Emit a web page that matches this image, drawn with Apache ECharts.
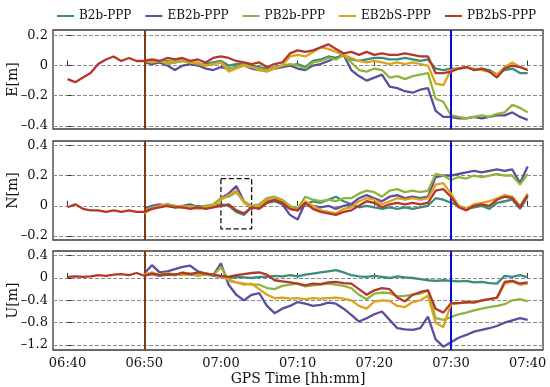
<!DOCTYPE html>
<html><head><meta charset="utf-8">
<script src="https://cdn.jsdelivr.net/npm/echarts@6/dist/echarts.min.js"></script>
<style>html,body{margin:0;padding:0;background:#fff}#c{width:550px;height:387px}</style>
</head><body><div id="c"></div>
<script>
// minutes after 06:40
const minutes = [0,1,2,3,4,5,6,7,8,9,10,11,12,13,14,15,16,17,18,19,20,21,22,23,24,25,26,27,28,29,30,31,32,33,34,35,36,37,38,39,40,41,42,43,44,45,46,47,48,49,50,51,52,53,54,55,56,57,58,59,60];
const seriesNames = ['B2b-PPP','EB2b-PPP','PB2b-PPP','EB2bS-PPP','PB2bS-PPP'];
const xTickValues = [0,10,20,30,40,50,60];
const xTickLabels = ['06:40','06:50','07:00','07:10','07:20','07:30','07:40'];
const eTicks = [-0.4,-0.2,0,0.2];
const nTicks = [-0.2,0,0.2,0.4];
const uTicks = [-1.2,-0.8,-0.4,0,0.4];
const vLineBrown = 10, vLineBlue = 50;
const boxN = {x0:20, x1:24, yTop:0.179, yBot:-0.152};
const N = null;
const pre = [N,N,N,N,N,N,N,N,N,N];

// ---- E component ----
const E_B2b   = pre.concat([0.02,0.03,0.02,0.03,0.02,0.03,0.02,0.01,0.01,0.02,0.03,0.0,0.01,0.01,0.0,-0.01,-0.02,-0.01,0.0,0.0,0.01,-0.01,0.03,0.04,0.06,0.05,0.07,0.04,0.03,0.04,0.05,0.05,0.04,0.04,0.05,0.04,0.03,0.04,-0.02,-0.03,-0.02,-0.02,-0.01,-0.03,-0.02,-0.03,-0.06,-0.03,-0.02,-0.05,-0.05]);
const E_EB2b  = pre.concat([0.02,0.01,0.02,0.0,-0.03,0.0,0.01,0.0,-0.02,-0.03,-0.01,-0.02,-0.01,0.0,-0.02,-0.03,-0.03,-0.02,-0.01,0.0,-0.02,-0.03,0.0,0.01,0.03,0.05,0.07,-0.03,-0.07,-0.1,-0.08,-0.06,-0.14,-0.15,-0.17,-0.18,-0.16,-0.15,-0.30,-0.34,-0.34,-0.35,-0.35,-0.34,-0.35,-0.34,-0.33,-0.33,-0.31,-0.34,-0.36]);
const E_PB2b  = pre.concat([0.03,0.02,0.03,0.01,0.02,0.03,0.02,0.01,0.0,0.01,0.02,-0.02,-0.01,0.01,-0.01,-0.02,-0.03,-0.01,0.0,0.01,0.0,-0.02,0.02,0.03,0.05,0.04,0.07,0.02,-0.03,-0.04,-0.02,-0.03,-0.08,-0.07,-0.09,-0.07,-0.06,-0.05,-0.22,-0.24,-0.33,-0.34,-0.35,-0.34,-0.33,-0.34,-0.32,-0.31,-0.26,-0.28,-0.31]);
const E_EB2bS = pre.concat([0.03,0.02,0.03,0.02,0.03,0.04,0.02,0.02,0.0,0.01,0.02,-0.04,-0.02,0.0,-0.01,-0.03,-0.04,-0.02,0.0,0.06,0.07,0.06,0.09,0.12,0.11,0.09,0.07,0.05,0.03,0.02,0.03,0.02,0.01,0.02,0.01,0.02,0.01,0.0,-0.12,-0.13,-0.03,-0.02,-0.01,-0.02,-0.03,-0.04,-0.06,-0.01,0.02,-0.01,-0.03]);
const E_PB2bS = [-0.09,-0.11,-0.08,-0.05,0.01,0.04,0.06,0.03,0.05,0.03,0.03,0.04,0.03,0.05,0.04,0.05,0.03,0.04,0.02,0.05,0.06,0.05,0.03,0.02,0.01,0.02,-0.01,0.01,0.02,0.08,0.10,0.09,0.10,0.12,0.14,0.11,0.08,0.09,0.07,0.09,0.07,0.08,0.07,0.07,0.08,0.07,0.06,0.06,-0.05,-0.05,-0.04,-0.02,-0.01,-0.03,-0.02,-0.04,-0.08,-0.02,0.0,-0.01,-0.03];

// ---- N component ----
const N_B2b   = pre.concat([-0.03,-0.01,0.0,0.01,0.0,-0.01,-0.01,0.0,-0.01,0.0,0.01,0.0,-0.04,-0.06,-0.01,-0.01,0.02,0.03,0.01,-0.02,-0.03,0.01,0.03,0.02,0.04,0.06,0.03,0.01,-0.01,0.0,-0.01,-0.02,-0.01,-0.02,-0.01,-0.02,-0.01,0.0,0.05,0.04,0.02,0.0,-0.02,-0.01,0.0,-0.02,0.02,0.03,0.04,-0.02,0.06]);
const N_EB2b  = pre.concat([-0.02,0.0,0.01,0.0,-0.01,0.0,0.01,-0.01,0.0,0.0,0.05,0.08,0.13,0.03,-0.02,0.0,0.03,0.04,0.01,-0.06,-0.09,0.02,0.0,-0.01,0.0,-0.02,0.0,0.01,0.05,0.07,0.05,0.03,0.06,0.07,0.05,0.06,0.05,0.06,0.19,0.2,0.2,0.21,0.22,0.23,0.22,0.23,0.24,0.23,0.24,0.15,0.26]);
const N_PB2b  = pre.concat([-0.03,-0.01,0.0,0.01,0.0,-0.01,0.0,-0.01,0.0,0.01,0.05,0.06,0.09,0.03,0.0,0.01,0.05,0.06,0.04,0.0,-0.02,0.06,0.04,0.03,0.04,0.03,0.05,0.05,0.08,0.1,0.09,0.06,0.1,0.11,0.09,0.1,0.09,0.1,0.21,0.2,0.17,0.19,0.18,0.2,0.19,0.2,0.21,0.2,0.2,0.14,0.21]);
const N_EB2bS = pre.concat([-0.05,-0.02,0.0,0.01,-0.01,0.0,-0.01,-0.02,-0.01,0.0,0.04,0.07,0.1,0.02,-0.01,0.0,0.04,0.05,0.03,-0.01,-0.03,0.03,0.0,-0.03,-0.04,-0.05,-0.02,-0.01,0.03,0.05,0.04,0.01,0.03,0.05,0.04,0.05,0.04,0.05,0.14,0.15,0.08,0.0,-0.02,0.01,0.02,0.03,0.05,0.07,0.06,0.0,0.08]);
const N_PB2bS = [-0.01,0.01,-0.02,-0.03,-0.03,-0.04,-0.03,-0.04,-0.03,-0.04,-0.04,-0.02,-0.01,0.0,-0.01,-0.01,-0.02,-0.01,-0.02,-0.01,0.0,0.01,-0.03,-0.05,-0.01,-0.02,0.02,0.04,0.02,-0.02,-0.03,0.02,-0.02,-0.04,-0.05,-0.06,-0.04,-0.03,0.0,0.03,0.02,-0.01,0.01,0.02,0.01,0.02,0.01,0.02,0.10,0.11,0.06,-0.01,-0.03,0.0,0.01,0.0,0.04,0.06,0.05,-0.01,0.07];

// ---- U component ----
const U_B2b   = pre.concat([0.05,0.07,0.04,0.06,0.05,0.08,0.06,0.05,0.07,0.04,0.02,0.0,0.02,0.01,0.0,0.02,0.02,0.04,0.03,0.05,0.03,0.06,0.08,0.1,0.12,0.14,0.1,0.05,0.03,0.02,0.04,0.02,0.0,0.03,0.01,0.0,-0.02,-0.04,-0.05,-0.04,-0.05,-0.06,-0.05,-0.08,-0.07,-0.09,-0.1,0.04,0.02,0.05,0.01]);
const U_EB2b  = pre.concat([0.08,0.23,0.1,0.12,0.16,0.2,0.22,0.12,0.08,0.05,0.26,-0.12,-0.3,-0.4,-0.3,-0.27,-0.5,-0.63,-0.55,-0.5,-0.43,-0.46,-0.5,-0.48,-0.44,-0.46,-0.55,-0.66,-0.78,-0.72,-0.65,-0.6,-0.75,-0.9,-0.92,-0.93,-0.9,-0.69,-1.1,-1.23,-1.15,-1.07,-1.02,-0.96,-0.93,-0.9,-0.86,-0.8,-0.76,-0.72,-0.75]);
const U_PB2b  = pre.concat([0.05,0.08,0.06,0.09,0.05,0.1,0.08,0.04,0.07,0.05,0.2,-0.05,-0.08,-0.1,-0.12,-0.12,-0.18,-0.2,-0.14,-0.12,-0.1,-0.15,-0.13,-0.12,-0.1,-0.12,-0.14,-0.18,-0.3,-0.38,-0.28,-0.26,-0.27,-0.33,-0.32,-0.3,-0.28,-0.22,-0.72,-0.75,-0.7,-0.65,-0.62,-0.58,-0.55,-0.52,-0.5,-0.47,-0.4,-0.38,-0.42]);
const U_EB2bS = pre.concat([0.06,0.1,0.05,0.08,0.07,0.05,0.08,0.06,0.09,0.05,0.03,-0.02,-0.08,-0.12,-0.1,-0.2,-0.3,-0.36,-0.35,-0.37,-0.36,-0.38,-0.36,-0.37,-0.36,-0.35,-0.37,-0.4,-0.5,-0.55,-0.42,-0.4,-0.41,-0.5,-0.52,-0.43,-0.4,-0.32,-0.8,-0.88,-0.47,-0.45,-0.44,-0.42,-0.41,-0.38,-0.36,-0.1,-0.06,-0.12,-0.1]);
const U_PB2bS = [0.02,0.03,0.02,0.03,0.05,0.04,0.06,0.07,0.05,0.09,0.04,0.08,0.05,0.07,0.06,0.09,0.07,0.1,0.08,0.06,0.04,0.02,0.05,0.07,0.09,0.1,0.06,-0.04,-0.06,-0.08,-0.1,-0.13,-0.1,-0.11,-0.08,-0.07,-0.09,-0.1,-0.2,-0.3,-0.22,-0.18,-0.2,-0.35,-0.42,-0.3,-0.25,-0.22,-0.55,-0.62,-0.45,-0.45,-0.43,-0.44,-0.4,-0.38,-0.35,-0.07,-0.05,-0.1,-0.08];

const colors = ['#3b8c78','#5b4e9f','#8fb43c','#dea21e','#b3372a'];
const FONT = 'DejaVu Serif';
const panels = [
  {name:'E[m]', ticks:eTicks, min:-0.42, max:0.235, data:[E_B2b,E_EB2b,E_PB2b,E_EB2bS,E_PB2bS]},
  {name:'N[m]', ticks:nTicks, min:-0.226, max:0.428, data:[N_B2b,N_EB2b,N_PB2b,N_EB2bS,N_PB2bS]},
  {name:'U[m]', ticks:uTicks, min:-1.29, max:0.484, data:[U_B2b,U_EB2b,U_PB2b,U_EB2bS,U_PB2bS]}
];
const grids = [{top:30,height:99},{top:141,height:99},{top:251,height:99}].map(g=>({
  left:53, right:7, top:g.top, height:g.height, show:true, borderColor:'#3a3a3a', borderWidth:1.3,
  backgroundColor:'transparent', containLabel:false, outerBoundsMode:'none'
}));
const fmtY = v => { if (Math.abs(v) < 1e-9) return '0'; return (v<0?'\u2013':'') + Math.abs(v).toFixed(1); };
const xAxes = panels.map((p,i)=>({
  type:'value', gridIndex:i, min:-1.9, max:62.0,
  axisLine:{show:false},
  axisTick:{show:true, inside:true, length:5, lineStyle:{color:'#333'}, customValues:xTickValues},
  axisLabel:{show:i===2, customValues:xTickValues, formatter:v=>xTickLabels[xTickValues.indexOf(v)] || '', fontFamily:FONT, fontSize:13, color:'#111', margin:7},
  splitLine:{show:false},
  name: i===2 ? 'GPS Time [hh:mm]' : '', nameLocation:'middle', nameGap:22, nameMoveOverlap:false,
  nameTextStyle:{fontFamily:FONT, fontSize:14, color:'#111'}
}));
const yAxes = panels.map((p,i)=>({
  type:'value', gridIndex:i, min:p.min, max:p.max,
  axisLine:{show:false},
  axisTick:{show:true, inside:true, length:4, lineStyle:{color:'#333'}, customValues:p.ticks},
  axisLabel:{customValues:p.ticks, formatter:fmtY, fontFamily:FONT, fontSize:13, color:'#111', margin:5},
  splitLine:{show:true, lineStyle:{color:'#8a8a8a', type:'dashed', width:1}},
  name:p.name, nameLocation:'middle', nameGap:33, nameRotate:90, nameMoveOverlap:false,
  nameTextStyle:{fontFamily:FONT, fontSize:14, color:'#111'}
}));
const series = [];
panels.forEach((p,i)=>{
  p.data.forEach((arr,k)=>{
    const s = {
      name:seriesNames[k], type:'line', xAxisIndex:i, yAxisIndex:i,
      data:minutes.map((m,j)=>[m, arr[j]]), showSymbol:false, symbol:'none',
      connectNulls:false, lineStyle:{width:2.3, color:colors[k]}, itemStyle:{color:colors[k]},
      z:2+k, animation:false
    };
    if (k===4) {
      s.markLine = {silent:true, symbol:['none','none'], label:{show:false}, animation:false,
        data:[{xAxis:vLineBrown, lineStyle:{color:'#7a3e12', width:2, type:'solid'}},
              {xAxis:vLineBlue, lineStyle:{color:'#0d0dd6', width:2, type:'solid'}}]};
    }
    if (k===4 && i===1) {
      s.markArea = {silent:true, animation:false, label:{show:false},
        itemStyle:{color:'rgba(0,0,0,0)', borderColor:'#111', borderWidth:1.3, borderType:'dashed'},
        data:[[{xAxis:boxN.x0, yAxis:boxN.yTop},{xAxis:boxN.x1, yAxis:boxN.yBot}]]};
    }
    series.push(s);
  });
});
const chart = echarts.init(document.getElementById('c'), null, {renderer:'canvas'});
chart.setOption({
  animation:false,
  backgroundColor:'#fff',
  color:colors,
  legend:{data:seriesNames, top:5, left:52, width:498, icon:'rect', itemWidth:17, itemHeight:2, itemGap:14,
    textStyle:{fontFamily:FONT, fontSize:12, color:'#111'}},
  grid:grids, xAxis:xAxes, yAxis:yAxes, series:series
});
</script></body></html>
